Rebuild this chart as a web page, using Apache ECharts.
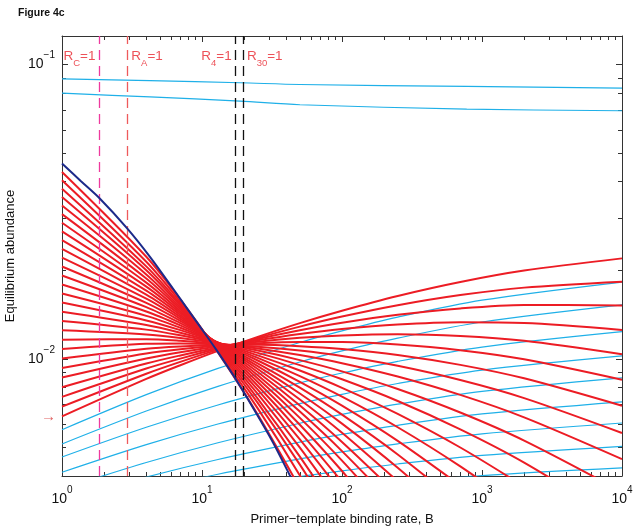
<!DOCTYPE html>
<html><head><meta charset="utf-8">
<script src="https://cdn.jsdelivr.net/npm/echarts@6/dist/echarts.min.js"></script>
<style>html,body{margin:0;padding:0;background:#fff}#c{width:637px;height:532px}</style>
</head><body><div id="c"></div>
<script>
// ---------- axes ----------
const xMajor = [1, 10, 100, 1000, 10000];
const xMinor = [2,3,4,5,6,7,8,9,20,30,40,50,60,70,80,90,200,300,400,500,600,700,800,900,2000,3000,4000,5000,6000,7000,8000,9000];
const yMajor = [0.01, 0.1];
const yMinor = [0.005,0.006,0.007,0.008,0.009,0.02,0.03,0.04,0.05,0.06,0.07,0.08,0.09];

// ---------- thresholds (vertical dashed lines) ----------
const thresholdNames = ['C', 'A', '4', '30'];
const thresholdB = [1.85, 2.93, 17.4, 19.6];
const thresholdLabelLevel = 0.1044;

// ---------- red family: values at common B grid ----------
const redB = [1, 4, 7, 13, 25, 50, 100, 250, 700, 2000, 10000];
const red00 = [0.04315, 0.02223, 0.01592, 0.01052, 0.006465, 0.003639];
const red01 = [0.04044, 0.02137, 0.01563, 0.01063, 0.00679, 0.004018, 0.002265];
const red02 = [0.03787, 0.02062, 0.01537, 0.01074, 0.007087, 0.004371, 0.002585];
const red03 = [0.03545, 0.02000, 0.01518, 0.01083, 0.007333, 0.004657, 0.002844];
const red04 = [0.03318, 0.01936, 0.01495, 0.01092, 0.007601, 0.004992, 0.003165];
const red05 = [0.03103, 0.01874, 0.01473, 0.01100, 0.007859, 0.005323, 0.003492];
const red06 = [0.02901, 0.01816, 0.01452, 0.01107, 0.008107, 0.005651, 0.003824];
const red07 = [0.02712, 0.01760, 0.01431, 0.01114, 0.008345, 0.005974, 0.004159, 0.002466];
const red08 = [0.02533, 0.01705, 0.01410, 0.01119, 0.008580, 0.006303, 0.004511, 0.002782];
const red09 = [0.02365, 0.01653, 0.01389, 0.01124, 0.008803, 0.006622, 0.004860, 0.003105];
const red10 = [0.02208, 0.01601, 0.01368, 0.01128, 0.009019, 0.006943, 0.005220, 0.003448];
const red11 = [0.02059, 0.01549, 0.01346, 0.01131, 0.009237, 0.007281, 0.005612, 0.003839];
const red12 = [0.01920, 0.01499, 0.01323, 0.01134, 0.009452, 0.007628, 0.006026, 0.004267, 0.002766];
const red13 = [0.01789, 0.01449, 0.01300, 0.01135, 0.009662, 0.007982, 0.006463, 0.004735, 0.003199];
const red14 = [0.01667, 0.01400, 0.01276, 0.01135, 0.009874, 0.008354, 0.006935, 0.005265, 0.003712];
const red15 = [0.01553, 0.01351, 0.01252, 0.01135, 0.01008, 0.008738, 0.007441, 0.005857, 0.004312, 0.003032];
const red16 = [0.01445, 0.01303, 0.01227, 0.01134, 0.01028, 0.009129, 0.007974, 0.006503, 0.004999, 0.003684];
const red17 = [0.01344, 0.01257, 0.01202, 0.01131, 0.01048, 0.009521, 0.008522, 0.007193, 0.005760, 0.004441, 0.002786];
const red18 = [0.01250, 0.01211, 0.01178, 0.01129, 0.01067, 0.009903, 0.009069, 0.007901, 0.006572, 0.005276, 0.003537];
const red19 = [0.01162, 0.01167, 0.01152, 0.01125, 0.01085, 0.01030, 0.009667, 0.008710, 0.007543, 0.006327, 0.004564];
const red20 = [0.01080, 0.01125, 0.01128, 0.01120, 0.01100, 0.01067, 0.01022, 0.009471, 0.008473, 0.007355, 0.005599];
const red21 = [0.01003, 0.01083, 0.01102, 0.01114, 0.01116, 0.01104, 0.01080, 0.01031, 0.009542, 0.008587, 0.006929];
const red22 = [0.009309, 0.01043, 0.01078, 0.01108, 0.01130, 0.01141, 0.01140, 0.01119, 0.01070, 0.009962, 0.008488];
const red23 = [0.008638, 0.01003, 0.01053, 0.01101, 0.01144, 0.01179, 0.01201, 0.01212, 0.01196, 0.01152, 0.01037];
const red24 = [0.008011, 0.009646, 0.01027, 0.01093, 0.01156, 0.01215, 0.01263, 0.01308, 0.01332, 0.01325, 0.01254];
const red25 = [0.007426, 0.009270, 0.01002, 0.01084, 0.01168, 0.01251, 0.01327, 0.01413, 0.01484, 0.01525, 0.01519];
const red26 = [0.006882, 0.008904, 0.009769, 0.01075, 0.01178, 0.01287, 0.01392, 0.01521, 0.01647, 0.01746, 0.01829];
const red27 = [0.006375, 0.008546, 0.009516, 0.01065, 0.01188, 0.01323, 0.01458, 0.01636, 0.01825, 0.01996, 0.02195];
const redCurves = [red00,red01,red02,red03,red04,red05,red06,red07,red08,red09,red10,red11,red12,red13,
  red14,red15,red16,red17,red18,red19,red20,red21,red22,red23,red24,red25,red26,red27];

// ---------- navy envelope ----------
const navyB = [1, 1.367, 1.868, 2.899, 4.25, 6.237, 9.68, 12.74, 16.73, 23.25, 32.3, 42.5, 54.5];
const navyV = [0.0461, 0.04013, 0.0350, 0.02787, 0.02222, 0.01727, 0.01287, 0.01069, 0.008792, 0.006796, 0.00518, 0.004013, 0.0032];

// ---------- light-blue curves ----------
const cyanTopB = [1, 4.25, 18.7, 50.1, 778, 10000];
const cyanTop1 = [0.08945, 0.0881, 0.0867, 0.08554, 0.08423, 0.0831];
const cyanTop2 = [0.07992, 0.0776, 0.0751, 0.0730, 0.07054, 0.06966];
const cyanB = [1, 4, 13, 50, 100, 250, 1000, 10000];
const cyan0 = [0.005745, 0.007557, 0.009279, 0.01137, 0.01245, 0.01386, 0.01583, 0.01824];
const cyan1 = [0.005139, 0.006649, 0.008068, 0.009761, 0.01064, 0.01176, 0.01334, 0.01525];
const cyan2 = [0.004643, 0.005859, 0.006973, 0.008286, 0.008952, 0.009807, 0.01097, 0.01237];
const cyan3 = [0.004118, 0.005111, 0.006007, 0.007049, 0.007580, 0.008247, 0.009156, 0.01023];
const cyan4 = [0.003617, 0.004445, 0.005188, 0.006045, 0.006475, 0.007016, 0.007753, 0.008622];
const cyan5 = [0.003303, 0.003966, 0.004550, 0.005212, 0.005538, 0.005947, 0.006500, 0.007143];
const cyan6 = [0.003048, 0.003589, 0.004054, 0.004571, 0.004828, 0.005143, 0.005564, 0.006054];
const cyan7 = [0.002824, 0.003240, 0.003592, 0.003978, 0.004163, 0.004393, 0.004697, 0.005044];
const cyan8 = [0.002612, 0.002934, 0.003200, 0.003486, 0.003625, 0.003793, 0.004013, 0.004261];
const cyanCurves = [cyan0,cyan1,cyan2,cyan3,cyan4,cyan5,cyan6,cyan7,cyan8];

// arrow marker level on left axis
const arrowLevel = 0.00636;

// ---------- styles ----------
const FONT = "'Liberation Sans', Arial, Helvetica, sans-serif";
const RED = '#ec1c24', NAVY = '#1c2a8a', CYAN = '#1fb0e8', AX = '#333';
const LABEL_RED = '#e8262e';
const thrColors = ['#ee3a9e', '#ee5a5c', '#111', '#111'];
const thrSide = ['left', 'right', 'left', 'right'];

const zip = (xs, ys) => ys.map((v, i) => [xs[i], v]);
const supText = v => { const e = Math.round(Math.log10(v)); return '{b|10}{s|' + String(e).replace('-', '\u2212') + '}'; };
const richSup = {
  b: { fontSize: 14, lineHeight: 28, fontFamily: FONT, color: '#111' },
  s: { fontSize: 10, lineHeight: 10, verticalAlign: 'top', fontFamily: FONT, color: '#111' }
};

function mkX(pos, ticks, len, showLine, label) {
  return {
    type: 'log', logBase: 10, min: 1, max: 10000, position: pos,
    axisLine: { show: showLine, onZero: false, lineStyle: { color: AX, width: 1 } },
    axisTick: { show: true, inside: true, length: len, customValues: ticks, lineStyle: { color: AX } },
    axisLabel: label ? { show: true, customValues: xMajor, formatter: supText, rich: richSup, margin: 9 } : { show: false },
    splitLine: { show: false }, minorTick: { show: false }
  };
}
function mkY(pos, ticks, len, showLine, label) {
  return {
    type: 'log', logBase: 10, min: 0.004, max: 0.125, position: pos,
    axisLine: { show: showLine, onZero: false, lineStyle: { color: AX, width: 1 } },
    axisTick: { show: true, inside: true, length: len, customValues: ticks, lineStyle: { color: AX } },
    axisLabel: label ? { show: true, customValues: yMajor, formatter: supText, rich: richSup, margin: 7 } : { show: false },
    splitLine: { show: false }, minorTick: { show: false }
  };
}

const xAxes = [mkX('bottom', xMajor, 6, true, true), mkX('bottom', xMinor, 4, false, false),
               mkX('top', xMajor, 6, true, false), mkX('top', xMinor, 4, false, false)];
xAxes[0].name = 'Primer\u2212template binding rate, B';
xAxes[0].nameLocation = 'middle';
xAxes[0].nameGap = 37;
xAxes[0].nameTextStyle = { fontSize: 13, fontFamily: FONT, color: '#111' };
const yAxes = [mkY('left', yMajor, 6, true, true), mkY('left', yMinor, 4, false, false),
               mkY('right', yMajor, 6, true, false), mkY('right', yMinor, 4, false, false)];
yAxes[0].name = 'Equilibrium abundance';
yAxes[0].nameLocation = 'middle';
yAxes[0].nameGap = 42;
yAxes[0].nameTextStyle = { fontSize: 13, fontFamily: FONT, color: '#111' };

const series = [];
[cyanTop1, cyanTop2].forEach(c => series.push({
  type: 'line', data: zip(cyanTopB, c), smooth: 0.3, showSymbol: false, silent: true,
  lineStyle: { color: CYAN, width: 1.2 }, z: 2
}));
cyanCurves.forEach(c => series.push({
  type: 'line', data: zip(cyanB, c), smooth: 0.3, showSymbol: false, silent: true,
  lineStyle: { color: CYAN, width: 1.2 }, z: 2
}));
redCurves.forEach(c => series.push({
  type: 'line', data: zip(redB, c), smooth: 0.3, showSymbol: false, silent: true,
  lineStyle: { color: RED, width: 2 }, z: 4
}));
series.push({
  type: 'line', data: zip(navyB, navyV), smooth: 0.3, showSymbol: false, silent: true,
  lineStyle: { color: NAVY, width: 2 }, z: 5
});

// threshold lines + labels
series.push({
  type: 'scatter', symbolSize: 0, silent: true, z: 6,
  data: thresholdB.map((b, i) => ({
    value: [b, thresholdLabelLevel],
    label: {
      show: true, position: thrSide[i], distance: 4,
      formatter: '{r|R}{u|' + thresholdNames[i] + '}{r|=1}',
      rich: {
        r: { fontSize: 13.5, lineHeight: 14, verticalAlign: 'top', color: LABEL_RED, fontFamily: FONT },
        u: { fontSize: 9.5, lineHeight: 19, verticalAlign: 'bottom', color: LABEL_RED, fontFamily: FONT }
      }
    }
  })),
  markLine: {
    silent: true, symbol: ['none', 'none'], animation: false,
    label: { show: false },
    data: thresholdB.map((b, i) => ({ xAxis: b, lineStyle: { color: thrColors[i], type: [10, 6], width: 1.3 } }))
  }
});
// arrow marker
series.push({
  type: 'scatter', symbolSize: 0, silent: true, z: 6,
  data: [[1, arrowLevel]],
  label: { show: true, position: 'left', distance: 6, formatter: '\u2192', fontSize: 15, color: '#d83a3a', fontFamily: FONT }
});

const chart = echarts.init(document.getElementById('c'), null, { renderer: 'canvas' });
chart.setOption({
  animation: false,
  backgroundColor: '#fff',
  title: { text: 'Figure 4c', left: 13, top: 3, textStyle: { fontSize: 10.5, fontWeight: 'bold', fontFamily: FONT, color: '#111' } },
  grid: { left: 62, right: 15, top: 36, bottom: 56, containLabel: false, outerBoundsMode: 'none' },
  xAxis: xAxes,
  yAxis: yAxes,
  series: series
});
</script></body></html>
